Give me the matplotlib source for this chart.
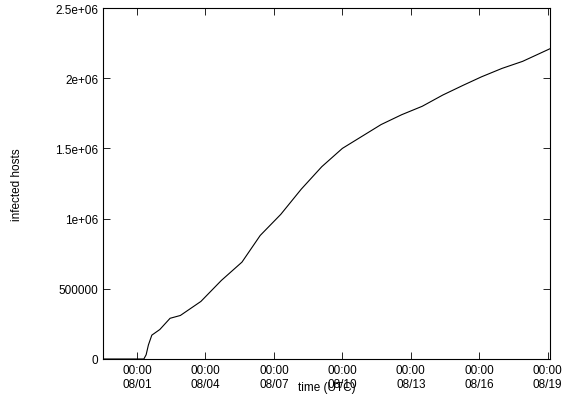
import datetime as dt
import matplotlib
matplotlib.use('Agg')
import matplotlib.pyplot as plt
import matplotlib.dates as mdates

plt.rcParams['font.family'] = ['Liberation Sans', 'DejaVu Sans']
plt.rcParams['font.size'] = 8.5

# days since 2008-08-01 00:00 UTC, infected hosts
days = [-1.5, 0.0, 0.3, 0.4, 0.5, 0.65, 1.0, 1.45, 1.9, 2.8, 3.7, 4.6, 5.4, 6.3, 7.2,
        8.1, 9.0, 9.8, 10.7, 11.6, 12.5, 13.4, 14.3, 15.1, 16.0, 16.9, 18.1]
hosts = [0, 0, 0, 30000, 100000, 170000, 210000, 290000, 310000, 410000, 560000, 690000,
         880000, 1030000, 1210000, 1370000, 1500000, 1580000, 1670000, 1740000, 1800000,
         1880000, 1950000, 2010000, 2070000, 2120000, 2210000]

t0 = dt.datetime(2008, 8, 1)
times = [t0 + dt.timedelta(days=d) for d in days]

fig = plt.figure(figsize=(5.65, 4.02), dpi=100)
ax = fig.add_axes([103 / 565, 42 / 402, 447 / 565, 351 / 402])
ax.plot(times, hosts, color='black', linewidth=0.8)

ax.set_xlim(t0 - dt.timedelta(days=1.49), t0 + dt.timedelta(days=18.1))
ax.set_ylim(0, 2.5e6)
ticks = [t0 + dt.timedelta(days=3 * i) for i in range(7)]
ax.set_xticks(ticks)
ax.xaxis.set_major_formatter(mdates.DateFormatter('%H:%M\n%m/%d'))
ax.set_yticks([0, 5e5, 1e6, 1.5e6, 2e6, 2.5e6])
ax.set_yticklabels(['0', '500000', '1e+06', '1.5e+06', '2e+06', '2.5e+06'])
ax.tick_params(direction='in', top=True, right=True, length=5, width=0.6)
for s in ax.spines.values():
    s.set_linewidth(0.8)
ax.set_xlabel('time (UTC)', labelpad=-6)
ax.set_ylabel('infected hosts')
ax.yaxis.set_label_coords(-0.18, 0.5)
fig.savefig('out.png', dpi=100)
